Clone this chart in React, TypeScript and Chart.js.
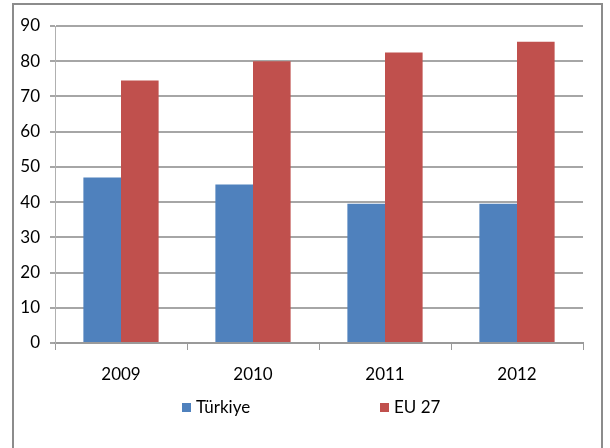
import React, { useEffect, useRef } from "react";
import { Chart, registerables } from "chart.js";

Chart.register(...registerables);

const categories = ["2009", "2010", "2011", "2012"];
const turkiye = [47, 45, 39.5, 39.5];
const eu27 = [74.5, 80, 82.5, 85.5];
const seriesNames = ["Türkiye", "EU 27"];
const colors = ["#4F81BD", "#C0504D"];
const yTicks = [0, 10, 20, 30, 40, 50, 60, 70, 80, 90];

const FONT = "Lato, 'Open Sans', sans-serif";

export default function App() {
  const ref = useRef<HTMLCanvasElement | null>(null);

  useEffect(() => {
    if (!ref.current) return;
    const chart = new Chart(ref.current, {
      type: "bar",
      data: {
        labels: categories,
        datasets: [
          { label: seriesNames[0], data: turkiye, backgroundColor: colors[0], borderWidth: 0 },
          { label: seriesNames[1], data: eu27, backgroundColor: colors[1], borderWidth: 0 },
        ],
      },
      options: {
        responsive: false,
        animation: false,
        layout: { padding: { left: 0, right: 27, top: 26, bottom: 0 } },
        plugins: { legend: { display: false }, title: { display: false }, tooltip: { enabled: false } },
        datasets: { bar: { categoryPercentage: 0.57, barPercentage: 1 } },
        scales: {
          x: {
            offset: true,
            afterFit: (s: any) => { s.height = 105; },
            grid: { drawOnChartArea: false, drawTicks: true, tickLength: 7, color: "#9a9a9a", offset: true },
            border: { display: true, color: "#9a9a9a", width: 2 },
            ticks: { color: "#000", font: { family: FONT, size: 17 }, padding: 14 },
          },
          y: {
            min: 0,
            max: 90,
            afterFit: (s: any) => { s.width = 55; },
            afterBuildTicks: (s: any) => { s.ticks = yTicks.map((v) => ({ value: v })); },
            grid: { color: "#a6a6a6", lineWidth: 2, tickLength: 5, drawTicks: true },
            border: { display: true, color: "#b0b0b0", width: 1 },
            ticks: { color: "#000", font: { family: FONT, size: 17 }, padding: 10 },
          },
        },
      },
    });
    return () => chart.destroy();
  }, []);

  const legendText: React.CSSProperties = {
    position: "absolute",
    fontFamily: FONT,
    fontSize: 17,
    color: "#000",
    lineHeight: "20px",
    top: 397,
  };
  const sq = (left: number, color: string): React.CSSProperties => ({
    position: "absolute",
    left,
    top: 403,
    width: 9,
    height: 9,
    background: color,
  });

  return (
    <div style={{ position: "fixed", left: 0, top: 0, width: 610, height: 448, background: "#fff", overflow: "hidden" }}>
      <div
        style={{
          position: "absolute",
          left: 12,
          top: 3,
          width: 587,
          height: 470,
          border: "2px solid #8c8c8c",
          boxSizing: "content-box",
        }}
      />
      <canvas ref={ref} width={610} height={448} style={{ position: "absolute", left: 0, top: 0 }} />
      <div style={sq(182, colors[0])} />
      <div style={{ ...legendText, left: 196 }}>{seriesNames[0]}</div>
      <div style={sq(380, colors[1])} />
      <div style={{ ...legendText, left: 394 }}>{seriesNames[1]}</div>
    </div>
  );
}
